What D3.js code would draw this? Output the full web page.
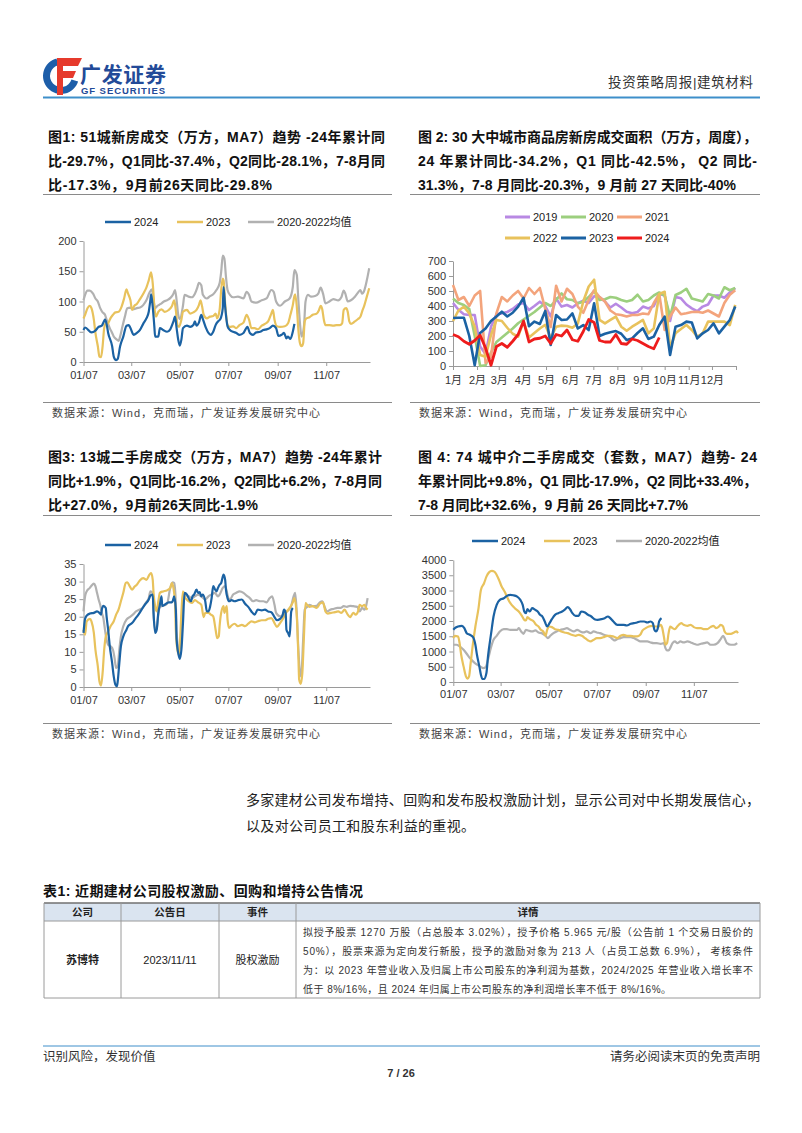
<!DOCTYPE html>
<html>
<head>
<meta charset="utf-8">
<script src="https://cdn.jsdelivr.net/npm/d3@7"></script>
<style>
  body { margin: 0; background: #fff; }
</style>
</head>
<body>
<svg id="page"></svg>
<script>
// ---------- data ----------
// x ticks of the daily MA7 charts: days after 01/07
const dayTickDays = [0, 60, 121, 182, 244, 305];
const dayTickLabels = ["01/07", "03/07", "05/07", "07/07", "09/07", "11/07"];
const monthStartDays = [0, 31, 59, 90, 120, 151, 181, 212, 243, 273, 304, 334];
const monthLabels = ["1月", "2月", "3月", "4月", "5月", "6月", "7月", "8月", "9月", "10月", "11月", "12月"];

const seriesNames = ["2024", "2023", "2020-2022均值"];
const weeklyNames = ["2019", "2020", "2021", "2022", "2023", "2024"];

// 图1 51城新房成交（万方，MA7）: [day after 01/07, value]
const fig1Ticks = [0, 50, 100, 150, 200];
const fig1_2024 = [[0,53],[2,57],[10,49],[15,52],[19,58],[23,60],[26,68],[27,70],[29,63],[31,48],[36,26],[38,9],[41,3],[43,5],[46,26],[50,42],[54,60],[57,61],[59,56],[63,45],[67,48],[71,53],[75,63],[79,72],[82,83],[84,102],[85,112],[87,91],[89,59],[90,42],[94,42],[96,56],[100,53],[105,50],[109,54],[113,67],[115,75],[117,56],[119,37],[121,27],[123,37],[125,56],[130,60],[134,58],[138,61],[140,67],[142,60],[145,65],[148,78],[150,71],[154,56],[157,48],[160,45],[163,50],[166,61],[169,67],[172,71],[175,89],[176,124],[178,91],[181,59],[184,53],[188,50],[192,48],[196,45],[201,48],[206,58],[209,48],[213,45],[217,49],[222,50],[226,53],[230,54],[234,56],[238,60],[242,56],[245,43],[249,45],[252,48],[255,39],[257,42],[260,38],[263,50],[265,63]];
const fig1_2023 = [[0,72],[2,78],[5,89],[8,93],[10,89],[13,70],[15,48],[18,26],[20,9],[22,8],[24,26],[26,56],[28,64],[31,64],[33,70],[37,78],[40,82],[44,83],[48,92],[51,105],[54,120],[56,113],[59,102],[61,86],[64,93],[67,96],[71,104],[76,115],[79,123],[82,135],[85,148],[87,130],[89,92],[91,75],[94,83],[98,87],[102,83],[107,86],[111,92],[114,102],[116,86],[118,61],[120,58],[123,70],[125,83],[130,86],[134,80],[138,82],[142,86],[145,94],[147,102],[149,92],[151,78],[155,72],[159,75],[163,76],[166,80],[168,72],[171,86],[173,119],[175,138],[176,135],[178,97],[181,61],[184,58],[188,59],[192,56],[196,61],[201,65],[205,78],[208,70],[211,56],[215,56],[219,54],[224,60],[228,63],[232,67],[236,80],[238,86],[240,70],[243,59],[247,58],[253,59],[257,64],[260,78],[263,94],[265,109],[266,112],[268,92],[270,53],[272,31],[274,26],[276,31],[278,67],[280,72],[284,74],[288,78],[293,80],[296,86],[298,93],[300,87],[302,70],[304,61],[309,61],[314,60],[318,61],[322,61],[325,64],[327,86],[330,89],[332,83],[334,67],[336,63],[341,67],[345,71],[348,75],[350,83],[353,94],[356,108],[359,122]];
const fig1_avg = [[0,102],[2,111],[5,118],[8,118],[12,113],[15,105],[18,100],[21,89],[24,82],[27,78],[29,70],[33,56],[36,48],[38,42],[42,37],[44,35],[46,42],[49,59],[52,75],[55,89],[59,90],[62,87],[67,89],[71,90],[75,94],[79,102],[83,115],[86,120],[88,102],[90,89],[93,93],[97,96],[101,100],[105,102],[110,107],[113,113],[115,119],[117,102],[119,78],[121,71],[125,93],[127,111],[132,108],[136,107],[140,113],[143,123],[145,131],[148,127],[150,111],[155,105],[159,109],[163,112],[167,119],[171,130],[173,149],[175,176],[177,171],[179,141],[181,119],[184,111],[188,107],[194,108],[201,105],[205,116],[208,111],[211,100],[217,98],[224,102],[230,105],[236,119],[239,116],[242,100],[247,93],[253,100],[259,105],[263,124],[265,152],[268,144],[270,102],[272,64],[274,42],[277,59],[279,100],[282,111],[286,108],[291,109],[295,113],[298,123],[301,113],[304,97],[309,100],[314,104],[320,102],[324,107],[327,118],[329,113],[332,100],[336,102],[341,108],[345,115],[348,119],[350,113],[353,119],[356,135],[359,155]];

// 图2 30大中城市商品房成交面积（万方，周度）: one value per week
const fig2Ticks = [0, 100, 200, 300, 400, 500, 600, 700];
const fig2_2019 = [420,375,345,340,340,130,80,262,345,351,360,380,410,420,373,400,429,400,330,451,396,407,390,418,435,420,465,460,430,390,415,390,362,351,360,396,384,400,480,470,300,460,451,410,384,365,396,410,470,470,455,490,520];
const fig2_2020 = [450,420,407,380,200,0,5,90,160,190,220,250,285,310,335,360,390,420,400,440,484,445,440,418,429,460,500,440,445,460,455,440,430,440,475,430,440,470,490,470,330,473,490,515,450,440,430,480,470,450,525,505,520];
const fig2_2021 = [540,440,460,400,470,500,20,60,351,460,430,470,500,450,520,480,520,380,260,535,430,515,480,396,355,440,505,460,430,370,345,340,330,340,340,350,345,420,480,240,330,390,345,352,360,362,355,370,350,330,420,475,505];
const fig2_2022 = [300,370,395,351,262,73,62,207,307,300,255,215,196,296,190,220,250,275,185,262,269,267,255,284,430,530,575,307,284,307,329,262,235,262,284,307,218,251,480,495,120,218,247,273,240,196,218,296,296,296,296,273,407];
const fig2_2023 = [320,322,322,200,5,220,250,300,330,362,330,355,396,455,265,296,280,367,140,340,307,310,351,250,273,240,418,200,215,225,233,215,173,184,220,251,180,196,273,329,73,262,273,296,290,184,218,240,284,218,262,307,396];
const fig2_2024 = [210,195,165,145,170,205,120,5,130,150,125,165,210,300,160,180,185,200,150,210,200,240,175,165,230,310,290,170,160,160,210,150,145,180,170,150,130,115,190];

// 图3 13城二手房成交（万方，MA7）
const fig3Ticks = [0, 5, 10, 15, 20, 25, 30, 35];
const fig3_2024 = [[0,15.4],[2,19.4],[4,20.3],[8,20.9],[13,21.1],[17,21.5],[20,21.1],[22,20.6],[23,22],[25,23.1],[28,22.5],[29,20.1],[31,16.3],[33,11.6],[36,6.8],[38,3],[40,0.7],[42,0.2],[43,1.6],[45,6.8],[47,11.6],[50,14.4],[54,16.3],[56,17.3],[61,18.2],[65,19.4],[69,20.6],[73,22],[77,23.4],[82,24.9],[84,26],[87,26.3],[88,21.1],[90,15.4],[92,16.3],[94,21.1],[96,23.4],[98,25.8],[99,23.1],[102,23.4],[107,24.1],[111,24.1],[112,24.4],[114,25.8],[116,22],[117,13.5],[119,9.7],[121,8],[123,10.6],[125,18.2],[127,26.8],[130,26.3],[133,24.9],[135,24.4],[137,25.8],[139,26.3],[142,27.7],[144,26.8],[146,27],[148,25.8],[150,26.3],[153,24.4],[155,21.5],[157,21.5],[159,22.8],[161,25.3],[163,28.7],[165,27.9],[167,27.2],[169,28.2],[171,29.1],[173,29.6],[176,32],[178,30.5],[179,27.7],[181,25.3],[183,24.4],[186,24.7],[190,24.4],[194,24.7],[199,24.9],[203,23.7],[207,22.8],[211,21.5],[215,20.6],[219,22],[224,21.8],[228,22],[232,21.5],[236,21.3],[240,19.9],[243,19],[247,19.4],[250,20.3],[252,22],[254,21.1],[255,16.3],[257,15.4],[259,14.4],[261,21.5],[263,22.5]];
const fig3_2023 = [[0,16.3],[2,14.9],[4,18.7],[8,19.4],[10,18.7],[13,15.4],[15,10.6],[18,5.9],[20,1.6],[22,0.4],[24,4],[26,10.6],[28,14.4],[31,15.8],[34,17.3],[38,18.7],[41,20.6],[44,22],[47,24.4],[50,26.8],[53,29.6],[55,29.8],[58,28.7],[61,27.7],[64,28.5],[67,29.1],[71,30.4],[75,31],[79,30.5],[83,32],[85,32.4],[87,30.5],[88,26.8],[90,23],[92,21.5],[94,24.4],[96,26.8],[100,27.2],[105,27.5],[109,28.2],[111,29.6],[113,28.2],[115,23.9],[116,16.3],[118,10.6],[120,9.2],[121,11.6],[123,21.1],[125,27.2],[127,25.8],[132,24.4],[136,23.9],[140,24.7],[144,24.1],[148,23.4],[151,19.9],[153,21.1],[157,21.1],[160,20.6],[163,20.1],[166,16.3],[168,13.9],[170,14.4],[171,17.3],[173,21.1],[176,23],[177,21.1],[180,23],[181,19.2],[183,16.8],[186,17.5],[190,18],[194,17.3],[199,17.7],[203,17.3],[207,18],[211,18.7],[215,18.4],[219,18.7],[224,19],[228,19],[232,19.4],[236,19.6],[240,18.2],[243,17.1],[247,18.2],[251,19.6],[255,21.3],[259,22.5],[263,24.1],[265,25.3],[268,20.1],[270,8.7],[271,2.1],[273,0.9],[275,4],[277,14.4],[279,23.9],[281,23.4],[284,22.8],[288,23],[293,22.5],[297,23.7],[301,24.1],[304,21.5],[307,20.9],[311,21.1],[316,21.3],[320,21.5],[324,21.1],[328,22],[332,20.6],[335,19.9],[339,21.1],[342,20.6],[345,21.5],[347,23.4],[350,23],[353,23.4],[355,22.5],[357,22]];
const fig3_avg = [[0,21.5],[2,25.8],[4,27.2],[8,28.2],[10,28.8],[13,29.4],[15,28.7],[17,26.8],[19,24.9],[21,23.4],[23,21.1],[25,19.6],[27,16.3],[29,13.5],[31,12],[34,11.6],[37,10.6],[39,8.3],[41,5.4],[43,5.9],[45,10.6],[47,14.4],[50,17.3],[54,19.2],[58,19.9],[62,20.6],[66,21.5],[70,22],[74,22.5],[78,23.9],[82,25.3],[84,27.2],[87,26.8],[88,21.1],[90,16.3],[92,16.8],[94,20.6],[96,22.8],[100,23.1],[105,23.7],[109,28.2],[112,29.8],[114,29.6],[116,23.9],[117,15.4],[120,10.6],[122,12],[124,20.1],[125,26.8],[127,26.3],[132,25.8],[136,25.3],[140,25.8],[144,26.3],[148,25.8],[153,24.9],[157,25.8],[161,26.3],[165,26.8],[169,25.8],[171,26.3],[175,28.2],[178,28.7],[180,27.2],[182,25.3],[184,24.9],[188,26.3],[192,26.8],[196,27.2],[201,26.8],[205,26],[209,25.3],[213,24.4],[217,24.7],[222,24.4],[226,24.4],[230,24.1],[234,25.3],[237,25.8],[240,23.4],[242,21.1],[247,20.1],[251,20.6],[255,21.5],[258,22],[261,23.1],[264,25.8],[266,26.8],[268,21.1],[270,10.6],[273,3],[274,4],[276,13.5],[278,22],[281,22.8],[284,23.4],[288,23],[293,23.1],[297,24.1],[300,24.4],[303,22.8],[306,21.5],[310,22],[314,22.2],[319,22.5],[323,22.5],[327,23],[331,22.8],[335,23.1],[339,23],[344,22.8],[347,21.5],[350,22.5],[353,22],[355,23],[357,25.3]];

// 图4 74城中介二手房成交（套数，MA7）
const fig4Ticks = [0, 500, 1000, 1500, 2000, 2500, 3000, 3500, 4000];
const fig4_2024 = [[0,1711],[2,1766],[6,1820],[11,1842],[14,1766],[17,1602],[21,1548],[25,1472],[28,1221],[30,894],[33,512],[35,240],[37,98],[39,98],[42,294],[44,839],[48,1602],[51,2147],[55,2529],[59,2692],[64,2747],[68,2823],[72,2856],[76,2845],[81,2801],[85,2692],[88,2529],[90,2311],[92,2256],[94,2387],[97,2311],[100,2420],[104,2365],[107,2311],[110,2202],[113,2147],[116,1984],[119,1820],[122,1929],[125,2060],[129,2202],[133,2256],[138,2311],[141,2365],[145,2453],[148,2387],[151,2256],[155,2169],[159,2169],[162,2311],[167,2278],[171,2202],[175,2147],[179,2060],[183,2038],[188,2060],[192,2093],[196,2147],[199,2093],[203,1984],[208,1875],[212,1875],[216,1875],[220,1853],[225,1908],[229,1929],[233,1951],[237,1984],[242,1984],[246,1951],[250,1984],[253,1929],[255,1711],[257,1657],[259,1733],[261,1984],[264,2093]];
const fig4_2023 = [[0,1439],[2,1515],[6,1493],[8,1275],[10,894],[13,512],[16,185],[18,109],[20,185],[22,621],[25,1275],[28,1820],[32,2420],[35,3019],[39,3237],[42,3455],[45,3586],[49,3641],[52,3619],[55,3510],[58,3346],[61,3150],[65,2965],[68,2801],[71,2638],[74,2529],[78,2420],[83,2311],[87,2169],[90,2038],[92,2017],[94,2126],[97,2060],[102,1984],[105,1875],[108,1820],[111,1711],[114,1657],[117,1515],[119,1711],[122,1820],[125,1799],[129,1733],[133,1711],[137,1657],[141,1624],[145,1602],[150,1548],[155,1515],[159,1548],[163,1515],[167,1439],[171,1362],[174,1330],[178,1384],[182,1439],[186,1439],[191,1472],[195,1515],[199,1515],[203,1493],[208,1439],[212,1515],[216,1548],[220,1515],[225,1515],[229,1493],[233,1493],[237,1548],[240,1690],[244,1766],[248,1820],[252,1842],[256,1820],[260,1820],[263,1875],[265,1766],[267,1493],[269,1221],[271,1275],[273,1602],[275,1820],[278,1766],[281,1733],[284,1820],[286,1875],[289,1929],[292,1875],[297,1842],[301,1875],[305,1799],[309,1766],[314,1766],[318,1733],[322,1733],[326,1799],[330,1842],[333,1766],[337,1820],[339,1875],[342,1820],[344,1657],[347,1581],[352,1581],[356,1624],[359,1657],[361,1602]];
const fig4_avg = [[0,1221],[4,1221],[8,1166],[13,1057],[17,927],[21,785],[25,676],[30,567],[34,512],[38,458],[41,490],[44,730],[47,1057],[51,1384],[55,1515],[59,1657],[64,1733],[68,1733],[72,1711],[76,1711],[81,1711],[83,1766],[86,1657],[89,1581],[92,1711],[95,1690],[100,1657],[104,1690],[108,1624],[112,1602],[117,1515],[120,1439],[123,1515],[127,1602],[131,1657],[136,1711],[140,1733],[144,1766],[148,1711],[153,1657],[157,1711],[161,1657],[165,1624],[169,1657],[174,1602],[178,1657],[182,1624],[186,1602],[191,1548],[195,1515],[199,1472],[202,1406],[205,1362],[208,1406],[212,1439],[216,1472],[220,1472],[225,1472],[229,1439],[233,1384],[237,1330],[242,1330],[246,1330],[250,1297],[254,1275],[258,1275],[263,1253],[267,1275],[269,1112],[271,1035],[273,1035],[275,1112],[278,1275],[281,1330],[284,1275],[288,1330],[292,1297],[297,1330],[301,1297],[305,1253],[309,1221],[314,1253],[318,1275],[322,1297],[326,1221],[330,1221],[335,1275],[339,1406],[342,1515],[344,1439],[347,1275],[352,1221],[356,1221],[360,1275]];

// 表1
const tableHead = ["公司", "公告日", "事件", "详情"];
const tableRow = ["苏博特", "2023/11/11", "股权激励"];
const tableDetail = [
  "拟授予股票 1270 万股（占总股本 3.02%），授予价格 5.965 元/股（公告前 1 个交易日股价的",
  "50%），股票来源为定向发行新股，授予的激励对象为 213 人（占员工总数 6.9%）， 考核条件",
  "为：以 2023 年营业收入及归属上市公司股东的净利润为基数，2024/2025 年营业收入增长率不",
  "低于 8%/16%，且 2024 年归属上市公司股东的净利润增长率不低于 8%/16%。"
];

// ---------- drawing ----------
const FONT = '"Liberation Sans", Arial, "Noto Sans CJK SC", sans-serif';
const C_BLUE = "#1b62a3", C_YEL = "#e8c25c", C_GRAY = "#b1b1b1";

const svg = d3.select("#page").attr("width", 802).attr("height", 1133)
  .style("font-family", FONT);

function txt(x, y, s, o = {}) {
  const t = svg.append("text").attr("x", x).attr("y", y).text(s)
    .attr("font-size", o.size || 12)
    .attr("font-weight", o.weight || "normal")
    .attr("fill", o.color || "#222")
    .attr("text-anchor", o.anchor || "start");
  if (o.len) t.attr("textLength", o.len).attr("lengthAdjust", "spacing");
  return t;
}

function hline(x1, x2, y, color, w) {
  svg.append("line").attr("x1", x1).attr("x2", x2).attr("y1", y).attr("y2", y)
    .attr("stroke", color).attr("stroke-width", w || 1);
}

// header
svg.append("path")
  .attr("transform", "translate(61,76)")
  .attr("d", d3.arc().innerRadius(11).outerRadius(18).startAngle(Math.PI * 0.6).endAngle(Math.PI * 1.92)())
  .attr("fill", "#1d5ea9");
svg.append("path").attr("d", "M57,58 L82,58 L78,66 L63,66 L63,71 L76,71 L73,78 L63,78 L63,95 L57,95 Z")
  .attr("fill", "#e63a2c");
txt(80, 82, "广发证券", { size: 21, weight: "bold", color: "#234a98", len: 86 });
txt(81, 94, "GF SECURITIES", { size: 9.5, weight: "bold", color: "#234a98", len: 84 });
txt(753, 87, "投资策略周报|建筑材料", { size: 13.5, color: "#333", anchor: "end", len: 145 });
hline(43, 760, 97.5, "#3e8fca", 2);

// chart titles
const titleLines = [
  { x: 48, y: 142, lines: ["图1: 51城新房成交（万方，MA7）趋势 -24年累计同", "比-29.7%，Q1同比-37.4%，Q2同比-28.1%，7-8月同", "比-17.3%，9月前26天同比-29.8%"], lens: [337, 337, 224] },
  { x: 418, y: 142, lines: ["图 2: 30 大中城市商品房新房成交面积（万方，周度），", "24 年累计同比-34.2%，Q1 同比-42.5%， Q2 同比-", "31.3%，7-8 月同比-20.3%，9 月前 27 天同比-40%"], lens: [339, 339, 318] },
  { x: 48, y: 462, lines: ["图3: 13城二手房成交（万方，MA7）趋势 -24年累计", "同比+1.9%，Q1同比-16.2%，Q2同比+6.2%，7-8月同", "比+27.0%，9月前26天同比-1.9%"], lens: [334, 334, 210] },
  { x: 418, y: 462, lines: ["图 4: 74 城中介二手房成交（套数，MA7）趋势-  24", "年累计同比+9.8%，Q1 同比-17.9%，Q2 同比+33.4%，", "7-8 月同比+32.6%，9 月前 26 天同比+7.7%"], lens: [339, 339, 270] }
];
titleLines.forEach(t => {
  t.lines.forEach((s, i) => txt(t.x, t.y + i * 24, s, { size: 14, weight: "bold", color: "#111", len: t.lens[i] }));
});

// separators and sources
[[43, 392], [410, 760]].forEach(([a, b]) => {
  hline(a, b, 194.5, "#8a8a8a");
  hline(a, b, 402.5, "#8a8a8a");
  hline(a, b, 515.5, "#8a8a8a");
  hline(a, b, 723.5, "#8a8a8a");
  txt(a + 9, 417, "数据来源：Wind，克而瑞，广发证券发展研究中心", { size: 11, color: "#444", len: 268 });
  txt(a + 9, 738, "数据来源：Wind，克而瑞，广发证券发展研究中心", { size: 11, color: "#444", len: 268 });
});

function styleAxis(g) {
  g.attr("font-family", FONT).attr("font-size", 11);
  g.selectAll("path.domain").attr("stroke", "#9a9a9a");
  g.selectAll(".tick line").attr("stroke", "#9a9a9a");
  g.selectAll(".tick text").attr("fill", "#333");
}

function legend(items, y, lineLen) {
  items.forEach(it => {
    svg.append("line").attr("x1", it.x).attr("x2", it.x + lineLen).attr("y1", y).attr("y2", y)
      .attr("stroke", it.color).attr("stroke-width", it.w || 2.5);
    txt(it.x + lineLen + 3, y + 4, it.name, { size: 11, color: "#222" });
  });
}

function dailyChart(c) {
  const x = d3.scaleLinear().domain([0, c.xMax]).range([c.x0, c.x1]);
  const y = d3.scaleLinear().domain([0, c.yTicks[c.yTicks.length - 1]]).range([c.y0, c.yTop]);
  svg.append("g").attr("transform", `translate(${c.x0},0)`)
    .call(d3.axisLeft(y).tickValues(c.yTicks).tickFormat(d3.format("d"))
      .tickSize(4).tickSizeOuter(0).tickPadding(3))
    .call(styleAxis);
  svg.append("g").attr("transform", `translate(0,${c.y0})`)
    .call(d3.axisBottom(x).tickValues(dayTickDays).tickFormat((d, i) => dayTickLabels[i])
      .tickSize(4).tickSizeOuter(0).tickPadding(c.labelPad))
    .call(styleAxis);
  const line = d3.line().x(d => x(d[0])).y(d => y(d[1])).curve(d3.curveMonotoneX);
  [[c.avg, C_GRAY], [c.y23, C_YEL], [c.y24, C_BLUE]].forEach(([s, col]) => {
    svg.append("path").datum(s).attr("d", line).attr("fill", "none")
      .attr("stroke", col).attr("stroke-width", 2.2).attr("stroke-linejoin", "round");
  });
  legend([
    { x: c.lx[0], name: seriesNames[0], color: C_BLUE },
    { x: c.lx[1], name: seriesNames[1], color: C_YEL },
    { x: c.lx[2], name: seriesNames[2], color: C_GRAY }
  ], c.ly, 26);
}

dailyChart({ x0: 83.5, x1: 370, xMax: 360, y0: 362, yTop: 241, yTicks: fig1Ticks, labelPad: 5,
  y24: fig1_2024, y23: fig1_2023, avg: fig1_avg, lx: [105, 177, 248], ly: 222 });
dailyChart({ x0: 83.5, x1: 370, xMax: 360, y0: 687, yTop: 564, yTicks: fig3Ticks, labelPad: 5,
  y24: fig3_2024, y23: fig3_2023, avg: fig3_avg, lx: [105, 177, 248], ly: 545 });
dailyChart({ x0: 453.3, x1: 738, xMax: 361, y0: 682, yTop: 560, yTicks: fig4Ticks, labelPad: 4,
  y24: fig4_2024, y23: fig4_2023, avg: fig4_avg, lx: [472, 544, 616], ly: 541 });

// 图2 weekly chart
(function () {
  const x = d3.scaleLinear().domain([0, 365]).range([453, 736]);
  const y = d3.scaleLinear().domain([0, 700]).range([366, 261]);
  svg.append("g").attr("transform", "translate(453,0)")
    .call(d3.axisLeft(y).tickValues(fig2Ticks).tickFormat(d3.format("d"))
      .tickSize(4).tickSizeOuter(0).tickPadding(3))
    .call(styleAxis);
  svg.append("g").attr("transform", "translate(0,366)")
    .call(d3.axisBottom(x).tickValues(monthStartDays.concat([365]))
      .tickFormat((d, i) => monthLabels[i] || "").tickSize(4).tickSizeOuter(0).tickPadding(6))
    .call(styleAxis);
  const cols = ["#b889e3", "#9ccf7e", "#f3a47c", "#e8c25c", "#1b62a3", "#ee1c1c"];
  const series = [fig2_2019, fig2_2020, fig2_2021, fig2_2022, fig2_2023, fig2_2024];
  const line = d3.line().x((d, i) => x(i * 7)).y(d => y(d));
  series.forEach((s, k) => {
    svg.append("path").datum(s).attr("d", line).attr("fill", "none")
      .attr("stroke", cols[k]).attr("stroke-width", k === 5 ? 2.8 : 2.6).attr("stroke-linejoin", "round");
  });
  legend([0, 1, 2].map(k => ({ x: 505 + k * 56, name: weeklyNames[k], color: cols[k], w: 3 })), 217, 25);
  legend([3, 4, 5].map(k => ({ x: 505 + k * 56 - 168, name: weeklyNames[k], color: cols[k], w: 3 })), 238, 25);
})();

// paragraph
txt(246, 805, "多家建材公司发布增持、回购和发布股权激励计划，显示公司对中长期发展信心，", { size: 14, color: "#222", len: 514 });
txt(246, 831, "以及对公司员工和股东利益的重视。", { size: 14, color: "#222", len: 229 });

// table
txt(43, 896, "表1: 近期建材公司股权激励、回购和增持公告情况", { size: 14, weight: "bold", color: "#111", len: 320 });
const colX = [44, 121, 219, 296, 760];
svg.append("rect").attr("x", 44).attr("y", 903).attr("width", 716).attr("height", 18).attr("fill", "#dae4f0");
hline(44, 760, 903, "#707070", 1.5);
hline(44, 760, 921, "#9a9a9a");
hline(44, 760, 998, "#9a9a9a");
colX.forEach(cx => svg.append("line").attr("x1", cx).attr("x2", cx).attr("y1", 903).attr("y2", 998)
  .attr("stroke", "#9a9a9a"));
tableHead.forEach((h, i) => txt((colX[i] + colX[i + 1]) / 2, 916, h, { size: 10.5, weight: "bold", color: "#222", anchor: "middle" }));
tableRow.forEach((v, i) => txt((colX[i] + colX[i + 1]) / 2, 964, v,
  { size: 11, weight: i === 0 ? "bold" : "normal", color: "#222", anchor: "middle" }));
const detailLens = [450, 450, 450, 368];
tableDetail.forEach((s, i) => txt(303, 936 + i * 19, s, { size: 10, color: "#333", len: detailLens[i] }));

// footer
hline(43, 760, 1046, "#3e8fca", 1);
txt(43, 1061, "识别风险，发现价值", { size: 12.5, color: "#333" });
txt(760, 1061, "请务必阅读末页的免责声明", { size: 12.5, color: "#333", anchor: "end" });
txt(401, 1077, "7 / 26", { size: 11, weight: "bold", color: "#333", anchor: "middle" });
</script>
</body>
</html>
